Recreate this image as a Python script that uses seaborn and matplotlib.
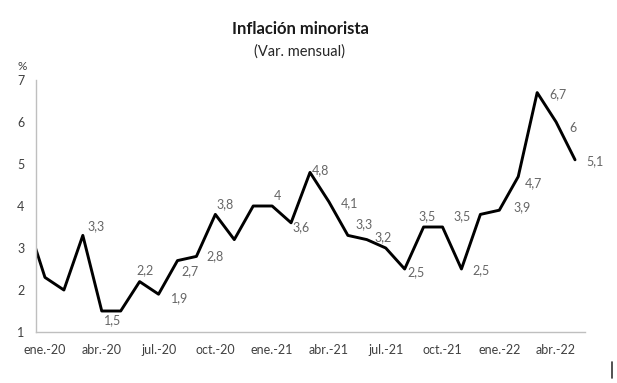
import numpy as np
import pandas as pd
import matplotlib.pyplot as plt
import seaborn as sns

sns.set_style('white')
plt.rcParams['font.family'] = ['Lato', 'DejaVu Sans']

# Data: monthly retail inflation, dic-19 .. may-22 (dic-19 sits outside the axis, only its segment shows)
months = ['dic.-19',
          'ene.-20', 'feb.-20', 'mar.-20', 'abr.-20', 'may.-20', 'jun.-20',
          'jul.-20', 'ago.-20', 'sep.-20', 'oct.-20', 'nov.-20', 'dic.-20',
          'ene.-21', 'feb.-21', 'mar.-21', 'abr.-21', 'may.-21', 'jun.-21',
          'jul.-21', 'ago.-21', 'sep.-21', 'oct.-21', 'nov.-21', 'dic.-21',
          'ene.-22', 'feb.-22', 'mar.-22', 'abr.-22', 'may.-22']
values = [3.7,
          2.3, 2.0, 3.3, 1.5, 1.5, 2.2,
          1.9, 2.7, 2.8, 3.8, 3.2, 4.0,
          4.0, 3.6, 4.8, 4.1, 3.3, 3.2,
          3.0, 2.5, 3.5, 3.5, 2.5, 3.8,
          3.9, 4.7, 6.7, 6.0, 5.1]
tick_labels = ['ene.-20', 'abr.-20', 'jul.-20', 'oct.-20', 'ene.-21',
               'abr.-21', 'jul.-21', 'oct.-21', 'ene.-22', 'abr.-22']

# which points carry a data label, and where the label sits (pixel offsets)
labelled = ['mar.-20', 'may.-20', 'jun.-20', 'jul.-20', 'ago.-20', 'sep.-20',
            'oct.-20', 'ene.-21', 'feb.-21', 'mar.-21', 'abr.-21', 'may.-21',
            'jun.-21', 'ago.-21', 'sep.-21', 'oct.-21', 'nov.-21', 'ene.-22',
            'feb.-22', 'mar.-22', 'abr.-22', 'may.-22']
offsets = [(13, 9), (-8, -9), (5, 11), (21, -4), (13, -11), (19, 0),
           (10, 10), (5, 10), (10, -4), (10, 2), (21, -1), (16, 11),
           (16, 2), (11, -3), (4, 11), (20, 11), (20, -1), (23, 3),
           (15, -7), (21, -2), (17, -6), (20, -1)]

df = pd.DataFrame({'mes': months, 'valor': values})
df['x'] = np.arange(len(df)) - 1

fig = plt.figure(figsize=(6.17, 3.83), dpi=100)
ax = fig.add_axes([35.5 / 617, 1 - 332 / 383, 549 / 617, 252 / 383])

sns.lineplot(data=df, x='x', y='valor', color='black', linewidth=2.1, ax=ax)

def fmt(v):
    return ('%g' % v).replace('.', ',')

for name, (dx, dy) in zip(labelled, offsets):
    row = df[df['mes'] == name].iloc[0]
    ax.annotate(fmt(row['valor']), (row['x'], row['valor']), xytext=(dx, dy),
                textcoords='offset pixels', ha='center', va='center',
                fontsize=9, color='#666666')

ax.set_xlim(-0.5, 28.5)
ax.set_ylim(1, 7)
ax.set_yticks(range(1, 8))
ax.set_xticks(np.arange(0, 28, 3))
ax.set_xticklabels(tick_labels)
ax.set_xticks(np.arange(-0.5, 29, 3), minor=True)
ax.tick_params(axis='x', which='major', length=0, pad=9, labelsize=9, labelcolor='#404040')
ax.tick_params(axis='x', which='minor', length=3, color='#bfbfbf', direction='out')
ax.tick_params(axis='y', length=3, color='#bfbfbf', direction='out', pad=5,
               labelsize=9, labelcolor='#404040')
ax.xaxis.set_tick_params(bottom=True)
ax.set_xlabel('')
ax.set_ylabel('')
for side in ['top', 'right']:
    ax.spines[side].set_visible(False)
for side in ['left', 'bottom']:
    ax.spines[side].set_color('#bfbfbf')
    ax.spines[side].set_linewidth(1)

fig.text(22 / 617, 1 - 67 / 383, '%', ha='center', va='center', fontsize=8.5, color='#404040')
fig.text(300 / 617, 1 - 29 / 383, 'Inflación minorista', ha='center', va='center',
         fontsize=12, fontweight='bold', color='#1a1a1a')
fig.text(299 / 617, 1 - 52 / 383, '(Var. mensual)', ha='center', va='center',
         fontsize=10.5, color='#262626')
fig.add_artist(plt.Line2D([612 / 617, 612 / 617], [1 - 378 / 383, 1 - 362 / 383],
                          color='#333333', linewidth=1.2))

fig.savefig('out.png', dpi=100)
